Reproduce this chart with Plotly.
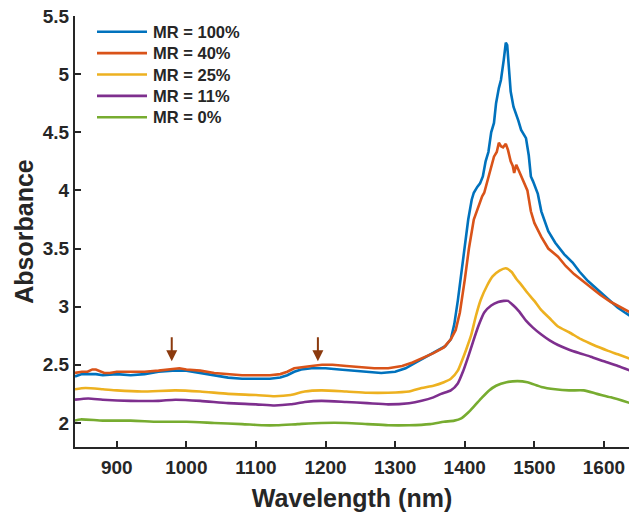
import plotly.graph_objects as go

# ---- data ----
labels = ["MR = 100%", "MR = 40%", "MR = 25%", "MR = 11%", "MR = 0%"]
colors = ["#0072BD", "#D95319", "#EDB120", "#7E2F8E", "#77AC30"]

wl_100 = [840, 850, 860, 870, 880, 900, 920, 940, 960, 980, 1000, 1020, 1040, 1060, 1080, 1100, 1120, 1135, 1145, 1155,
          1165, 1180, 1200, 1220, 1240, 1260, 1280, 1300, 1315, 1330, 1345, 1360, 1372, 1380, 1385, 1390, 1395, 1400, 1405,
          1410, 1413, 1418, 1422, 1426, 1430, 1434, 1438, 1442, 1445, 1449, 1452, 1456, 1459, 1461, 1463, 1466, 1470, 1474,
          1477, 1481, 1485, 1488, 1492, 1495, 1498, 1502, 1505, 1510, 1520, 1530, 1543, 1555, 1565, 1577, 1590, 1600, 1610,
          1620, 1630, 1638]
abs_100 = [2.40, 2.42, 2.42, 2.42, 2.41, 2.42, 2.41, 2.42, 2.44, 2.45, 2.45, 2.43, 2.41, 2.39, 2.38, 2.38, 2.38, 2.39,
           2.41, 2.44, 2.46, 2.47, 2.47, 2.46, 2.45, 2.44, 2.43, 2.44, 2.47, 2.52, 2.57, 2.62, 2.66, 2.72, 2.85, 3.05, 3.30,
           3.52, 3.75, 3.92, 3.98, 4.03, 4.06, 4.12, 4.25, 4.33, 4.50, 4.58, 4.75, 4.88, 4.95, 5.12, 5.27, 5.25, 5.05, 4.85,
           4.72, 4.66, 4.60, 4.52, 4.48, 4.45, 4.30, 4.12, 4.08, 4.02, 3.97, 3.82, 3.65, 3.55, 3.45, 3.38, 3.30, 3.22, 3.15,
           3.10, 3.05, 2.99, 2.95, 2.92]

wl_40 = [840, 850, 858, 865, 870, 875, 882, 890, 900, 920, 940, 960, 975, 990, 1000, 1020, 1040, 1060, 1080, 1100, 1120,
         1135, 1145, 1155, 1165, 1180, 1195, 1210, 1230, 1250, 1270, 1290, 1310, 1325, 1340, 1355, 1370, 1380, 1387, 1393,
         1400, 1406, 1413, 1420, 1425, 1428, 1433, 1438, 1442, 1446, 1449, 1452, 1455, 1459, 1462, 1466, 1469, 1471, 1474,
         1477, 1481, 1485, 1490, 1495, 1500, 1510, 1520, 1534, 1545, 1557, 1570, 1581, 1595, 1610, 1625, 1638]
abs_40 = [2.43, 2.44, 2.44, 2.46, 2.46, 2.45, 2.43, 2.43, 2.44, 2.44, 2.44, 2.45, 2.46, 2.47, 2.46, 2.45, 2.43, 2.42, 2.41,
          2.41, 2.41, 2.42, 2.44, 2.47, 2.48, 2.49, 2.50, 2.50, 2.49, 2.48, 2.47, 2.47, 2.49, 2.52, 2.56, 2.60, 2.65, 2.72,
          2.80, 2.95, 3.23, 3.50, 3.75, 3.87, 3.95, 3.98, 4.09, 4.18, 4.29, 4.33, 4.41, 4.38, 4.37, 4.40, 4.35, 4.25, 4.21,
          4.15, 4.22, 4.18, 4.12, 4.07, 4.00, 3.82, 3.72, 3.60, 3.50, 3.43, 3.35, 3.28, 3.22, 3.17, 3.10, 3.04, 2.99, 2.95]

wl_25 = [840, 855, 880, 900, 936, 984, 1020, 1060, 1100, 1127, 1150, 1170, 1194, 1230, 1260, 1290, 1320, 1338, 1355, 1370,
         1380, 1390, 1395, 1402, 1409, 1416, 1423, 1432, 1440, 1450, 1459, 1467, 1474, 1481, 1490, 1500, 1510, 1522, 1534,
         1550, 1567, 1585, 1606, 1620, 1638]
abs_25 = [2.29, 2.30, 2.29, 2.28, 2.27, 2.28, 2.27, 2.25, 2.24, 2.23, 2.24, 2.27, 2.28, 2.27, 2.26, 2.26, 2.27, 2.30, 2.32,
          2.35, 2.38, 2.45, 2.52, 2.63, 2.75, 2.92, 3.06, 3.18, 3.26, 3.31, 3.33, 3.30, 3.24, 3.19, 3.12, 3.05, 2.97, 2.90,
          2.83, 2.78, 2.72, 2.67, 2.62, 2.59, 2.55]

wl_11 = [840, 859, 880, 920, 960, 984, 1020, 1060, 1100, 1127, 1150, 1170, 1194, 1230, 1260, 1290, 1320, 1338, 1355, 1366,
         1380, 1390, 1398, 1405, 1412, 1420, 1428, 1438, 1448, 1456, 1462, 1470, 1478, 1488, 1498, 1510, 1522, 1534, 1550,
         1565, 1581, 1600, 1620, 1638]
abs_11 = [2.20, 2.21, 2.20, 2.19, 2.19, 2.20, 2.19, 2.17, 2.16, 2.15, 2.16, 2.18, 2.19, 2.18, 2.17, 2.16, 2.17, 2.19, 2.22,
          2.25, 2.28, 2.34, 2.45, 2.57, 2.70, 2.84, 2.95, 3.01, 3.04, 3.05, 3.05, 3.01, 2.96, 2.88, 2.82, 2.76, 2.71, 2.67,
          2.63, 2.60, 2.57, 2.53, 2.49, 2.45]

wl_0 = [840, 848, 880, 920, 960, 1000, 1040, 1080, 1110, 1130, 1160, 1194, 1230, 1260, 1290, 1320, 1350, 1370, 1385, 1395,
        1405, 1413, 1425, 1435, 1445, 1460, 1476, 1490, 1510, 1530, 1550, 1571, 1590, 1610, 1638]
abs_0 = [2.02, 2.03, 2.02, 2.02, 2.01, 2.01, 2.00, 1.99, 1.98, 1.98, 1.99, 2.00, 2.00, 1.99, 1.98, 1.98, 1.99, 2.01, 2.02,
         2.04, 2.09, 2.14, 2.22, 2.28, 2.32, 2.35, 2.36, 2.35, 2.31, 2.29, 2.28, 2.28, 2.25, 2.22, 2.17]

arrow_wl = [979, 1189]
arrow_tip = [2.53, 2.53]
arrow_tail = [2.75, 2.75]

x_ticks = [900, 1000, 1100, 1200, 1300, 1400, 1500, 1600]
y_ticks = [2, 2.5, 3, 3.5, 4, 4.5, 5, 5.5]

series = [(wl_100, abs_100, "linear"), (wl_40, abs_40, "linear"), (wl_25, abs_25, "spline"),
          (wl_11, abs_11, "spline"), (wl_0, abs_0, "spline")]

FONT = "Liberation Sans"
INK = "#262626"
W, H = 629, 514
ML, MR, MT, MB = 75, 0, 16, 67
PW, PH = W - ML - MR, H - MT - MB

fig = go.Figure()
for (x, y, shape), name, c in zip(series, labels, colors):
    line = dict(color=c, width=2.6, shape=shape)
    if shape == "spline":
        line["smoothing"] = 0.6
    fig.add_trace(go.Scatter(x=x, y=y, mode="lines", name=name, line=line, showlegend=False))

for xw, yt, ya in zip(arrow_wl, arrow_tip, arrow_tail):
    fig.add_annotation(x=xw, y=yt, ax=xw, ay=ya, xref="x", yref="y", axref="x", ayref="y",
                       showarrow=True, arrowhead=2, arrowsize=1.1, arrowwidth=2, arrowcolor="#8B3A0E", text="")

# compact MATLAB-style legend (line sample + bold label), in paper coordinates
def px_x(p):
    return (p - ML) / PW

def px_y(p):
    return 1 - (p - MT) / PH

for i, (name, c) in enumerate(zip(labels, colors)):
    yc = 31.7 + 21.4 * i
    fig.add_shape(type="line", xref="paper", yref="paper", x0=px_x(97), x1=px_x(147), y0=px_y(yc), y1=px_y(yc),
                  line=dict(color=c, width=2.6))
    fig.add_annotation(xref="paper", yref="paper", x=px_x(151), y=px_y(yc), xanchor="left", yanchor="middle",
                       text=f"<b>{name}</b>", showarrow=False,
                       font=dict(family=FONT, size=16.5, color=INK))

axis_common = dict(showline=True, linecolor=INK, linewidth=2, ticks="inside", ticklen=6,
                   tickwidth=2, tickcolor=INK, showgrid=False, zeroline=False, automargin=False,
                   tickfont=dict(family=FONT, size=19, color=INK))

fig.update_layout(
    width=W, height=H,
    margin=dict(l=ML, r=MR, t=MT, b=MB),
    paper_bgcolor="white", plot_bgcolor="white",
    font=dict(family=FONT, color=INK),
    xaxis=dict(range=[840, 1636], tickvals=x_ticks, ticktext=[f"<b>{v}</b>" for v in x_ticks],
               ticklabelstandoff=2,
               title=dict(text="<b>Wavelength (nm)</b>", font=dict(family=FONT, size=25, color=INK), standoff=13),
               **axis_common),
    yaxis=dict(range=[1.793, 5.5], tickvals=y_ticks, ticktext=[f"<b>{v:g}</b>" for v in y_ticks],
               title=dict(text="<b>Absorbance</b>", font=dict(family=FONT, size=25, color=INK), standoff=2),
               **axis_common),
    showlegend=False,
)

# remove the default page margin so the figure sits at the window's top-left corner
fig.write_html("out.html", config={"displayModeBar": False},
               post_script="document.body.style.margin='0';")
